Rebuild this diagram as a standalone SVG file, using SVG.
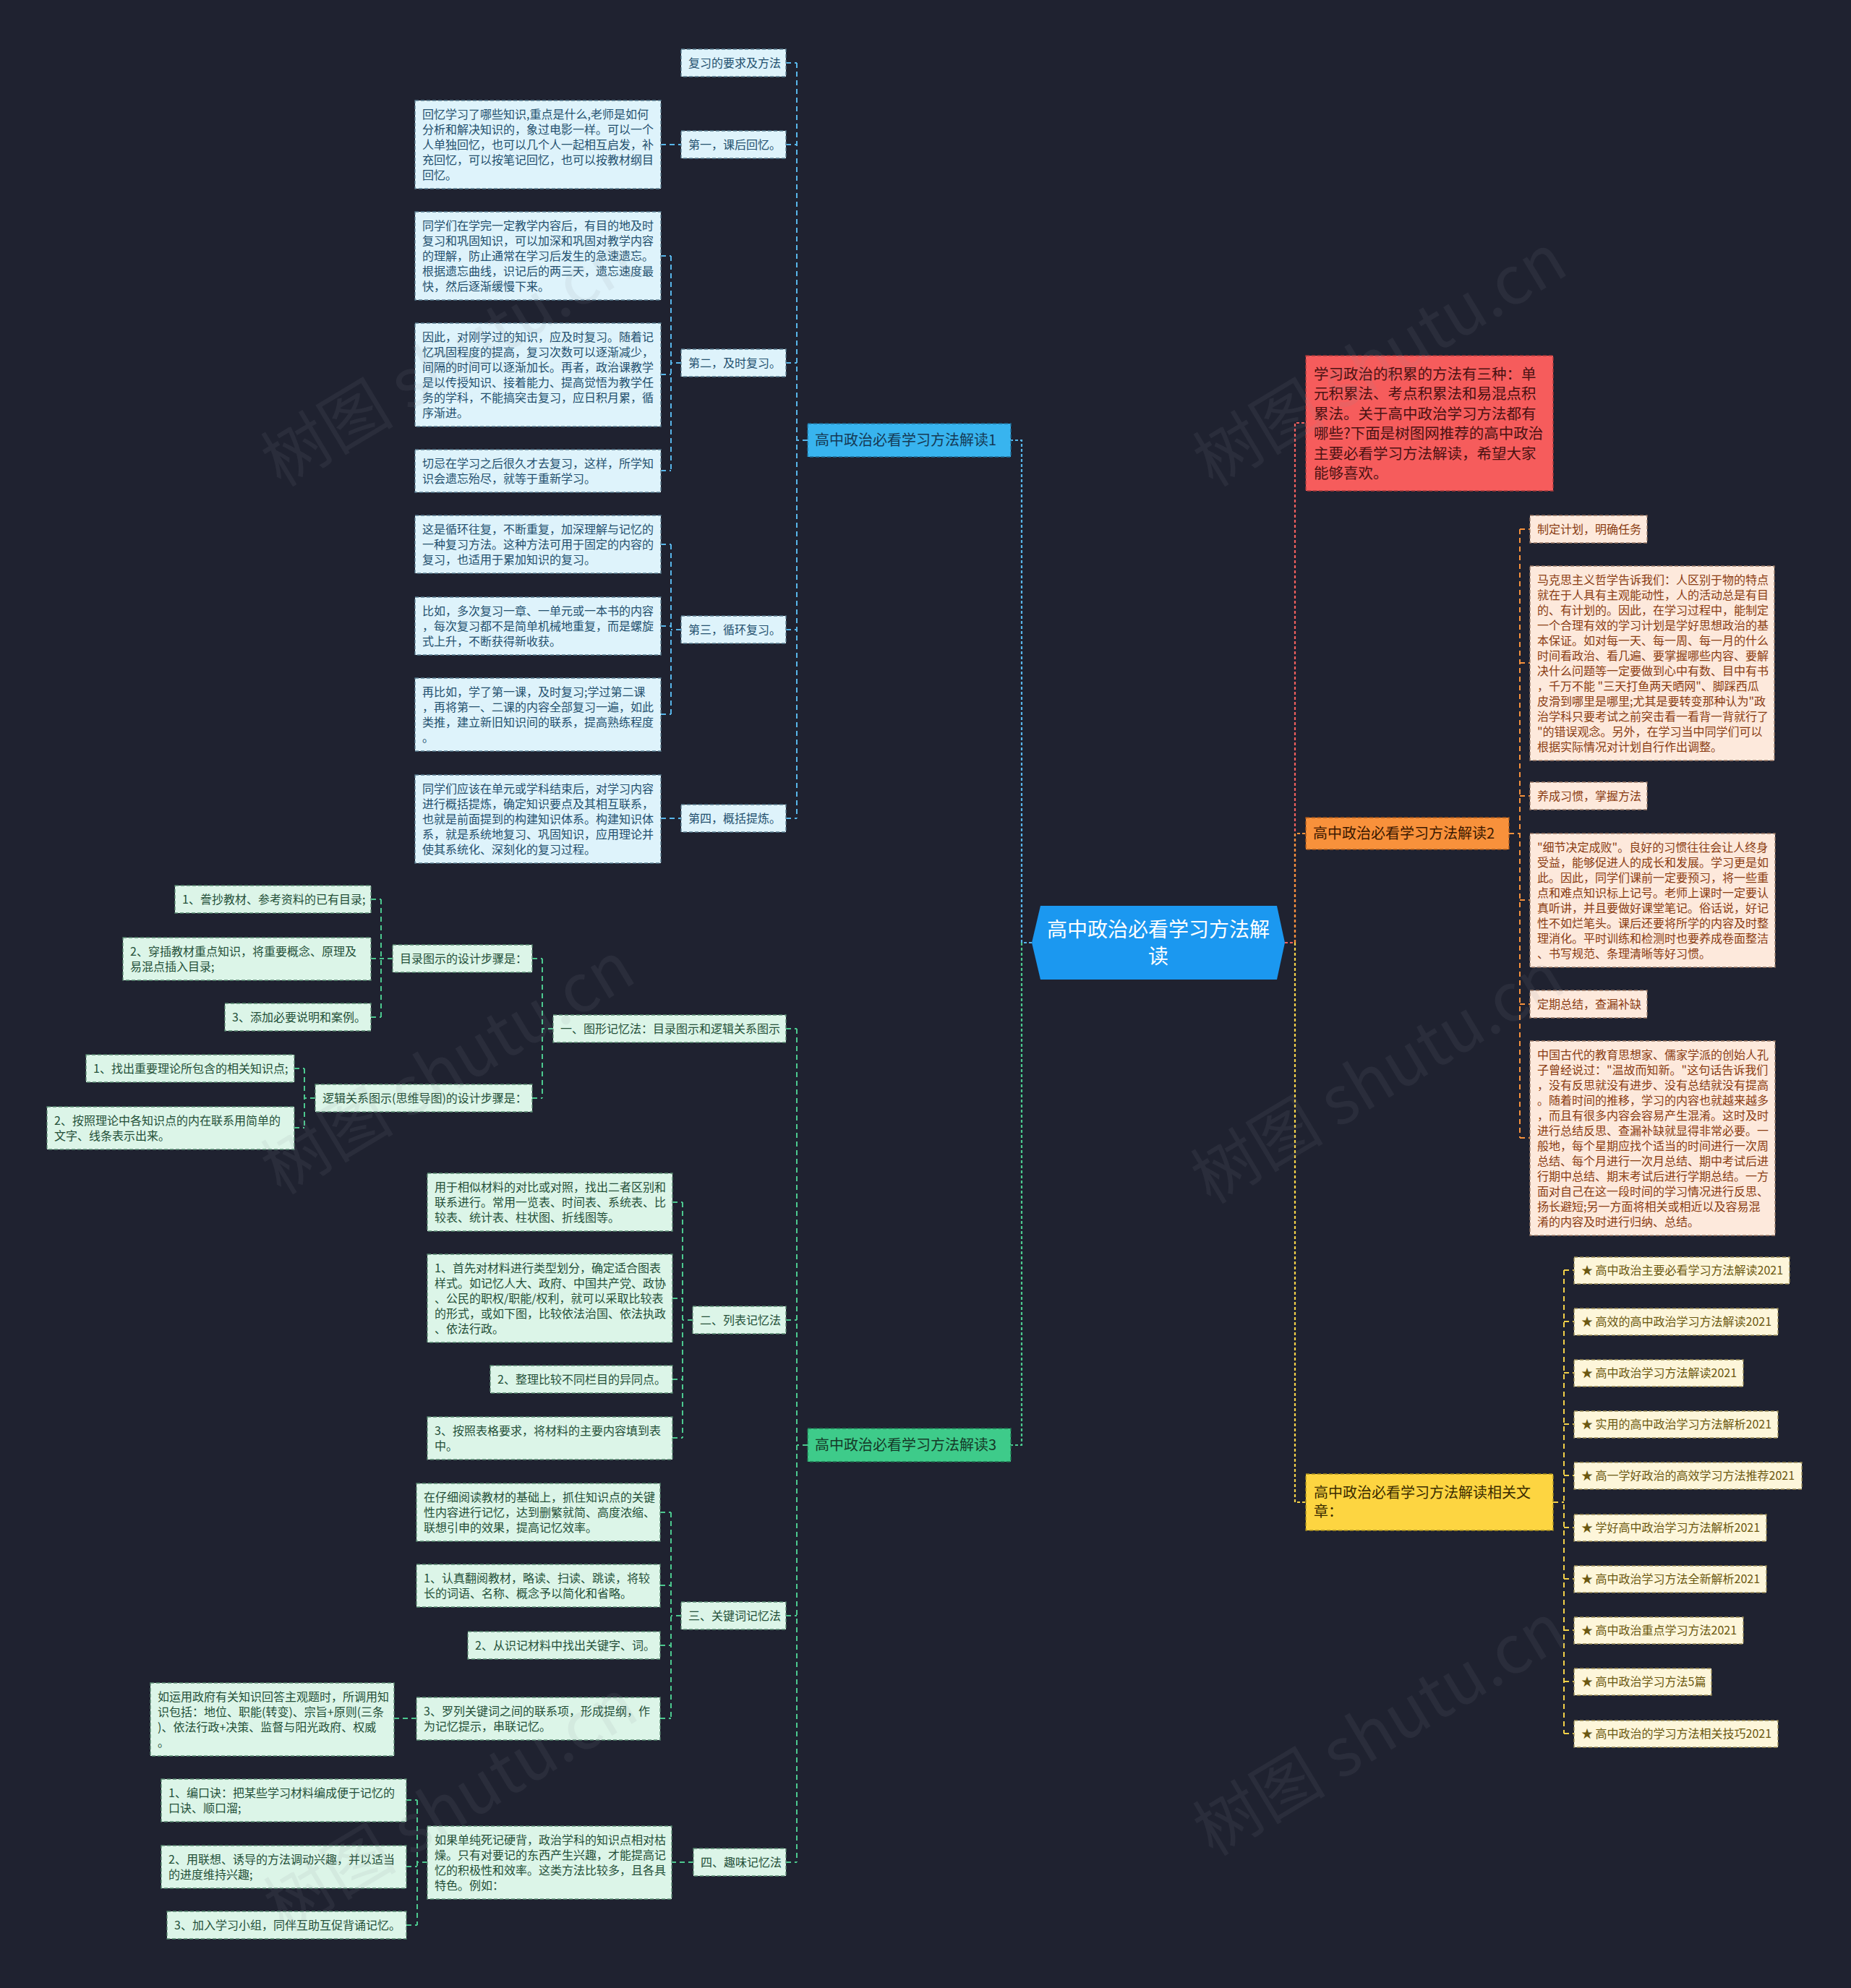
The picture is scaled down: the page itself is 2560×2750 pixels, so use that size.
<svg xmlns="http://www.w3.org/2000/svg" width="2560" height="2750" viewBox="0 0 2560 2750">
<style>
text{font-family:"Noto Sans CJK SC","Noto Sans",sans-serif;font-size:16px}
.box{stroke-width:1.3;stroke-dasharray:5 3}
.nb{fill:#def3fb;stroke:#5a7d90}
.ng{fill:#dcf5e8;stroke:#5a8a72}
.no{fill:#fde9dc;stroke:#9a7a66}
.ny{fill:#fdf6da;stroke:#9a8c55}
.tb{fill:#23506e}
.tg{fill:#245038}
.to{fill:#8a3c12}
.ty{fill:#6b5810}
.c{fill:none;stroke-width:2;stroke-dasharray:7 5}
.c1{fill:none;stroke-width:2.2;stroke-dasharray:4 3}
.cb{stroke:#58b6ea}
.cg{stroke:#4cc98f}
.cr{stroke:#f0605e}
.co{stroke:#f7913b}
.cy{stroke:#f3d148}
.big{font-size:20px}
.wm{font-size:92px;fill:#8a909a;opacity:0.1}
</style>
<rect width="2560" height="2750" fill="#1f2230"/>

<g id="connectors">
<path class="c1 cr" d="M1777,1304 H1791 V585 H1806"/>
<path class="c1 co" d="M1791,1304 V1153 H1806"/>
<path class="c1 cy" d="M1791,1304 V2078 H1806"/>
<path class="c1 cb" d="M1427,1304 H1413 V609 H1398"/>
<path class="c1 cg" d="M1413,1304 V1999 H1398"/>
<g class="c cb">
<path d="M1117,609 H1102 M1102,87 V1132 M1087,87 H1102 M1087,200 H1102 M1087,502 H1102 M1087,871 H1102 M1087,1132 H1102"/>
<path d="M914,200 H942"/>
<path d="M942,502 H928 M928,354 V651 M914,354 H928 M914,518 H928 M914,651 H928"/>
<path d="M942,871 H928 M928,753 V988 M914,753 H928 M914,866 H928 M914,988 H928"/>
<path d="M914,1132 H942"/>
</g>
<g class="c cg">
<path d="M1117,1999 H1102 M1102,1423 V2576 M1087,1423 H1102 M1087,1826 H1102 M1087,2235 H1102 M1087,2576 H1102"/>
<path d="M765,1423 H750 M750,1326 V1519 M736,1326 H750 M736,1519 H750"/>
<path d="M543,1326 H527 M527,1244 V1407 M513,1244 H527 M513,1326 H527 M513,1407 H527"/>
<path d="M436,1519 H421 M421,1478 V1560 M407,1478 H421 M407,1560 H421"/>
<path d="M958,1826 H944 M944,1663 V1989 M930,1663 H944 M930,1796 H944 M930,1908 H944 M930,1989 H944"/>
<path d="M942,2235 H928 M928,2092 V2377 M913,2092 H928 M913,2193 H928 M913,2276 H928 M913,2377 H928"/>
<path d="M576,2377 H545"/>
<path d="M959,2576 H929"/>
<path d="M591,2576 H577 M577,2490 V2663 M562,2490 H577 M562,2582 H577 M562,2663 H577"/>
</g>
<g class="c co">
<path d="M2087,1153 H2102 M2102,732 V1574 M2102,732 H2116 M2102,917 H2116 M2102,1101 H2116 M2102,1245 H2116 M2102,1389 H2116 M2102,1574 H2116"/>
</g>
<g class="c cy">
<path d="M2148,2078 H2163 M2163,1757 V2398 M2163,1757 H2177 M2163,1828 H2177 M2163,1899 H2177 M2163,1970 H2177 M2163,2041 H2177 M2163,2113 H2177 M2163,2184 H2177 M2163,2255 H2177 M2163,2326 H2177 M2163,2398 H2177"/>
</g>
</g>

<g id="center">
<polygon points="1439,1253 1766,1253 1777,1304 1766,1355 1439,1355 1427,1304" fill="#1b98f0"/>
<text x="1602" y="1296" text-anchor="middle" style="font-size:28px" fill="#ffffff"><tspan x="1602" y="1296">高中政治必看学习方法解</tspan><tspan x="1602" y="1333">读</tspan></text>
</g>

<g id="branch1">
<rect x="1117" y="586" width="281" height="46" fill="#38b4ef" stroke="#1f6f99" stroke-width="1.3" stroke-dasharray="5 3"/>
<text class="big" x="1127" y="616" fill="#153a55">高中政治必看学习方法解读1</text>
</g>
<g id="b1-n1"><rect class="box nb" x="942" y="68" width="145" height="38"/><text class="tb" x="952" y="93">复习的要求及方法</text></g>
<g id="b1-n2"><rect class="box nb" x="574" y="139" width="340" height="122"/><text class="tb"><tspan x="584" y="164">回忆学习了哪些知识,重点是什么,老师是如何</tspan><tspan x="584" y="185">分析和解决知识的，象过电影一样。可以一个</tspan><tspan x="584" y="206">人单独回忆，也可以几个人一起相互启发，补</tspan><tspan x="584" y="227">充回忆，可以按笔记回忆，也可以按教材纲目</tspan><tspan x="584" y="248">回忆。</tspan></text></g>
<g id="b1-n3"><rect class="box nb" x="942" y="181" width="145" height="38"/><text class="tb" x="952" y="206">第一，课后回忆。</text></g>
<g id="b1-n4"><rect class="box nb" x="574" y="293" width="340" height="122"/><text class="tb"><tspan x="584" y="318">同学们在学完一定教学内容后，有目的地及时</tspan><tspan x="584" y="339">复习和巩固知识，可以加深和巩固对教学内容</tspan><tspan x="584" y="360">的理解，防止通常在学习后发生的急速遗忘。</tspan><tspan x="584" y="381">根据遗忘曲线，识记后的两三天，遗忘速度最</tspan><tspan x="584" y="402">快，然后逐渐缓慢下来。</tspan></text></g>
<g id="b1-n5"><rect class="box nb" x="574" y="447" width="340" height="143"/><text class="tb"><tspan x="584" y="472">因此，对刚学过的知识，应及时复习。随着记</tspan><tspan x="584" y="493">忆巩固程度的提高，复习次数可以逐渐减少，</tspan><tspan x="584" y="514">间隔的时间可以逐渐加长。再者，政治课教学</tspan><tspan x="584" y="535">是以传授知识、接着能力、提高觉悟为教学任</tspan><tspan x="584" y="556">务的学科，不能搞突击复习，应日积月累，循</tspan><tspan x="584" y="577">序渐进。</tspan></text></g>
<g id="b1-n6"><rect class="box nb" x="942" y="483" width="145" height="38"/><text class="tb" x="952" y="508">第二，及时复习。</text></g>
<g id="b1-n7"><rect class="box nb" x="574" y="622" width="340" height="59"/><text class="tb"><tspan x="584" y="647">切忌在学习之后很久才去复习，这样，所学知</tspan><tspan x="584" y="668">识会遗忘殆尽，就等于重新学习。</tspan></text></g>
<g id="b1-n8"><rect class="box nb" x="574" y="713" width="340" height="80"/><text class="tb"><tspan x="584" y="738">这是循环往复，不断重复，加深理解与记忆的</tspan><tspan x="584" y="759">一种复习方法。这种方法可用于固定的内容的</tspan><tspan x="584" y="780">复习，也适用于累加知识的复习。</tspan></text></g>
<g id="b1-n9"><rect class="box nb" x="574" y="826" width="340" height="80"/><text class="tb"><tspan x="584" y="851">比如，多次复习一章、一单元或一本书的内容</tspan><tspan x="584" y="872">，每次复习都不是简单机械地重复，而是螺旋</tspan><tspan x="584" y="893">式上升，不断获得新收获。</tspan></text></g>
<g id="b1-n10"><rect class="box nb" x="942" y="852" width="145" height="38"/><text class="tb" x="952" y="877">第三，循环复习。</text></g>
<g id="b1-n11"><rect class="box nb" x="574" y="938" width="340" height="101"/><text class="tb"><tspan x="584" y="963">再比如，学了第一课，及时复习;学过第二课</tspan><tspan x="584" y="984">，再将第一、二课的内容全部复习一遍，如此</tspan><tspan x="584" y="1005">类推，建立新旧知识间的联系，提高熟练程度</tspan><tspan x="584" y="1026">。</tspan></text></g>
<g id="b1-n12"><rect class="box nb" x="574" y="1072" width="340" height="122"/><text class="tb"><tspan x="584" y="1097">同学们应该在单元或学科结束后，对学习内容</tspan><tspan x="584" y="1118">进行概括提炼，确定知识要点及其相互联系，</tspan><tspan x="584" y="1139">也就是前面提到的构建知识体系。构建知识体</tspan><tspan x="584" y="1160">系，就是系统地复习、巩固知识，应用理论并</tspan><tspan x="584" y="1181">使其系统化、深刻化的复习过程。</tspan></text></g>
<g id="b1-n13"><rect class="box nb" x="942" y="1113" width="145" height="38"/><text class="tb" x="952" y="1138">第四，概括提炼。</text></g>

<g id="branch3">
<rect x="1117" y="1976" width="281" height="46" fill="#3ecb8a" stroke="#1f7a52" stroke-width="1.3" stroke-dasharray="5 3"/>
<text class="big" x="1127" y="2006" fill="#153a28">高中政治必看学习方法解读3</text>
</g>
<g id="b3-n1"><rect class="box ng" x="765" y="1404" width="322" height="38"/><text class="tg" x="775" y="1429">一、图形记忆法：目录图示和逻辑关系图示</text></g>
<g id="b3-n2"><rect class="box ng" x="543" y="1307" width="193" height="38"/><text class="tg" x="553" y="1332">目录图示的设计步骤是：</text></g>
<g id="b3-n3"><rect class="box ng" x="436" y="1500" width="300" height="38"/><text class="tg" x="446" y="1525">逻辑关系图示(思维导图)的设计步骤是：</text></g>
<g id="b3-n4"><rect class="box ng" x="242" y="1225" width="271" height="38"/><text class="tg" x="252" y="1250">1、誊抄教材、参考资料的已有目录;</text></g>
<g id="b3-n5"><rect class="box ng" x="170" y="1297" width="343" height="59"/><text class="tg"><tspan x="180" y="1322">2、穿插教材重点知识，将重要概念、原理及</tspan><tspan x="180" y="1343">易混点插入目录;</tspan></text></g>
<g id="b3-n6"><rect class="box ng" x="311" y="1388" width="202" height="38"/><text class="tg" x="321" y="1413">3、添加必要说明和案例。</text></g>
<g id="b3-n7"><rect class="box ng" x="119" y="1459" width="288" height="38"/><text class="tg" x="129" y="1484">1、找出重要理论所包含的相关知识点;</text></g>
<g id="b3-n8"><rect class="box ng" x="65" y="1531" width="342" height="59"/><text class="tg"><tspan x="75" y="1556">2、按照理论中各知识点的内在联系用简单的</tspan><tspan x="75" y="1577">文字、线条表示出来。</tspan></text></g>
<g id="b3-n9"><rect class="box ng" x="958" y="1807" width="129" height="38"/><text class="tg" x="968" y="1832">二、列表记忆法</text></g>
<g id="b3-n10"><rect class="box ng" x="591" y="1623" width="339" height="80"/><text class="tg"><tspan x="601" y="1648">用于相似材料的对比或对照，找出二者区别和</tspan><tspan x="601" y="1669">联系进行。常用一览表、时间表、系统表、比</tspan><tspan x="601" y="1690">较表、统计表、柱状图、折线图等。</tspan></text></g>
<g id="b3-n11"><rect class="box ng" x="591" y="1735" width="339" height="122"/><text class="tg"><tspan x="601" y="1760">1、首先对材料进行类型划分，确定适合图表</tspan><tspan x="601" y="1781">样式。如记忆人大、政府、中国共产党、政协</tspan><tspan x="601" y="1802">、公民的职权/职能/权利，就可以采取比较表</tspan><tspan x="601" y="1823">的形式，或如下图，比较依法治国、依法执政</tspan><tspan x="601" y="1844">、依法行政。</tspan></text></g>
<g id="b3-n12"><rect class="box ng" x="678" y="1889" width="252" height="38"/><text class="tg" x="688" y="1914">2、整理比较不同栏目的异同点。</text></g>
<g id="b3-n13"><rect class="box ng" x="591" y="1960" width="339" height="59"/><text class="tg"><tspan x="601" y="1985">3、按照表格要求，将材料的主要内容填到表</tspan><tspan x="601" y="2006">中。</tspan></text></g>
<g id="b3-n14"><rect class="box ng" x="942" y="2216" width="145" height="38"/><text class="tg" x="952" y="2241">三、关键词记忆法</text></g>
<g id="b3-n15"><rect class="box ng" x="576" y="2052" width="337" height="80"/><text class="tg"><tspan x="586" y="2077">在仔细阅读教材的基础上，抓住知识点的关键</tspan><tspan x="586" y="2098">性内容进行记忆，达到删繁就简、高度浓缩、</tspan><tspan x="586" y="2119">联想引申的效果，提高记忆效率。</tspan></text></g>
<g id="b3-n16"><rect class="box ng" x="576" y="2164" width="337" height="59"/><text class="tg"><tspan x="586" y="2189">1、认真翻阅教材，略读、扫读、跳读，将较</tspan><tspan x="586" y="2210">长的词语、名称、概念予以简化和省略。</tspan></text></g>
<g id="b3-n17"><rect class="box ng" x="647" y="2257" width="266" height="38"/><text class="tg" x="657" y="2282">2、从识记材料中找出关键字、词。</text></g>
<g id="b3-n18"><rect class="box ng" x="576" y="2348" width="337" height="59"/><text class="tg"><tspan x="586" y="2373">3、罗列关键词之间的联系项，形成提纲，作</tspan><tspan x="586" y="2394">为记忆提示，串联记忆。</tspan></text></g>
<g id="b3-n19"><rect class="box ng" x="208" y="2328" width="337" height="101"/><text class="tg"><tspan x="218" y="2353">如运用政府有关知识回答主观题时，所调用知</tspan><tspan x="218" y="2374">识包括：地位、职能(转变)、宗旨+原则(三条</tspan><tspan x="218" y="2395">)、依法行政+决策、监督与阳光政府、权威</tspan><tspan x="218" y="2416">。</tspan></text></g>
<g id="b3-n20"><rect class="box ng" x="959" y="2557" width="128" height="38"/><text class="tg" x="969" y="2582">四、趣味记忆法</text></g>
<g id="b3-n21"><rect class="box ng" x="591" y="2526" width="338" height="101"/><text class="tg"><tspan x="601" y="2551">如果单纯死记硬背，政治学科的知识点相对枯</tspan><tspan x="601" y="2572">燥。只有对要记的东西产生兴趣，才能提高记</tspan><tspan x="601" y="2593">忆的积极性和效率。这类方法比较多，且各具</tspan><tspan x="601" y="2614">特色。例如：</tspan></text></g>
<g id="b3-n22"><rect class="box ng" x="223" y="2461" width="339" height="59"/><text class="tg"><tspan x="233" y="2486">1、编口诀：把某些学习材料编成便于记忆的</tspan><tspan x="233" y="2507">口诀、顺口溜;</tspan></text></g>
<g id="b3-n23"><rect class="box ng" x="223" y="2553" width="339" height="59"/><text class="tg"><tspan x="233" y="2578">2、用联想、诱导的方法调动兴趣，并以适当</tspan><tspan x="233" y="2599">的进度维持兴趣;</tspan></text></g>
<g id="b3-n24"><rect class="box ng" x="231" y="2644" width="331" height="38"/><text class="tg" x="241" y="2669">3、加入学习小组，同伴互助互促背诵记忆。</text></g>

<g id="intro">
<rect x="1806" y="492" width="342" height="187" fill="#f65c5c" stroke="#a83a3a" stroke-width="1.3" stroke-dasharray="5 3"/>
<text style="font-size:20.5px" fill="#4a1212"><tspan x="1817" y="525">学习政治的积累的方法有三种：单</tspan><tspan x="1817" y="552">元积累法、考点积累法和易混点积</tspan><tspan x="1817" y="580">累法。关于高中政治学习方法都有</tspan><tspan x="1817" y="607">哪些?下面是树图网推荐的高中政治</tspan><tspan x="1817" y="635">主要必看学习方法解读，希望大家</tspan><tspan x="1817" y="662">能够喜欢。</tspan></text>
</g>

<g id="branch2">
<rect x="1806" y="1131" width="281" height="44" fill="#f8913b" stroke="#a8581c" stroke-width="1.3" stroke-dasharray="5 3"/>
<text class="big" x="1816" y="1160" fill="#3a1800">高中政治必看学习方法解读2</text>
</g>
<g id="b2-n1"><rect class="box no" x="2116" y="713" width="162" height="38"/><text class="to" x="2126" y="738">制定计划，明确任务</text></g>
<g id="b2-n2"><rect class="box no" x="2116" y="783" width="338" height="269"/><text class="to"><tspan x="2126" y="808">马克思主义哲学告诉我们：人区别于物的特点</tspan><tspan x="2126" y="829">就在于人具有主观能动性，人的活动总是有目</tspan><tspan x="2126" y="850">的、有计划的。因此，在学习过程中，能制定</tspan><tspan x="2126" y="871">一个合理有效的学习计划是学好思想政治的基</tspan><tspan x="2126" y="892">本保证。如对每一天、每一周、每一月的什么</tspan><tspan x="2126" y="913">时间看政治、看几遍、要掌握哪些内容、要解</tspan><tspan x="2126" y="934">决什么问题等一定要做到心中有数、目中有书</tspan><tspan x="2126" y="955">，千万不能 "三天打鱼两天晒网"、脚踩西瓜</tspan><tspan x="2126" y="976">皮滑到哪里是哪里;尤其是要转变那种认为"政</tspan><tspan x="2126" y="997">治学科只要考试之前突击看一看背一背就行了</tspan><tspan x="2126" y="1018">"的错误观念。另外，在学习当中同学们可以</tspan><tspan x="2126" y="1039">根据实际情况对计划自行作出调整。</tspan></text></g>
<g id="b2-n3"><rect class="box no" x="2116" y="1082" width="162" height="38"/><text class="to" x="2126" y="1107">养成习惯，掌握方法</text></g>
<g id="b2-n4"><rect class="box no" x="2116" y="1153" width="339" height="185"/><text class="to"><tspan x="2126" y="1178">"细节决定成败"。良好的习惯往往会让人终身</tspan><tspan x="2126" y="1199">受益，能够促进人的成长和发展。学习更是如</tspan><tspan x="2126" y="1220">此。因此，同学们课前一定要预习，将一些重</tspan><tspan x="2126" y="1241">点和难点知识标上记号。老师上课时一定要认</tspan><tspan x="2126" y="1262">真听讲，并且要做好课堂笔记。俗话说，好记</tspan><tspan x="2126" y="1283">性不如烂笔头。课后还要将所学的内容及时整</tspan><tspan x="2126" y="1304">理消化。平时训练和检测时也要养成卷面整洁</tspan><tspan x="2126" y="1325">、书写规范、条理清晰等好习惯。</tspan></text></g>
<g id="b2-n5"><rect class="box no" x="2116" y="1370" width="162" height="38"/><text class="to" x="2126" y="1395">定期总结，查漏补缺</text></g>
<g id="b2-n6"><rect class="box no" x="2116" y="1440" width="339" height="269"/><text class="to"><tspan x="2126" y="1465">中国古代的教育思想家、儒家学派的创始人孔</tspan><tspan x="2126" y="1486">子曾经说过："温故而知新。"这句话告诉我们</tspan><tspan x="2126" y="1507">，没有反思就没有进步、没有总结就没有提高</tspan><tspan x="2126" y="1528">。随着时间的推移，学习的内容也就越来越多</tspan><tspan x="2126" y="1549">，而且有很多内容会容易产生混淆。这时及时</tspan><tspan x="2126" y="1570">进行总结反思、查漏补缺就显得非常必要。一</tspan><tspan x="2126" y="1591">般地，每个星期应找个适当的时间进行一次周</tspan><tspan x="2126" y="1612">总结、每个月进行一次月总结、期中考试后进</tspan><tspan x="2126" y="1633">行期中总结、期末考试后进行学期总结。一方</tspan><tspan x="2126" y="1654">面对自己在这一段时间的学习情况进行反思、</tspan><tspan x="2126" y="1675">扬长避短;另一方面将相关或相近以及容易混</tspan><tspan x="2126" y="1696">淆的内容及时进行归纳、总结。</tspan></text></g>

<g id="related">
<rect x="1806" y="2039" width="342" height="78" fill="#fdd541" stroke="#a88e1c" stroke-width="1.3" stroke-dasharray="5 3"/>
<text class="big" fill="#3a2c00"><tspan x="1817" y="2072">高中政治必看学习方法解读相关文</tspan><tspan x="1817" y="2098">章：</tspan></text>
</g>
<g id="r1"><rect class="box ny" x="2177" y="1739" width="298" height="37"/><text class="ty" x="2187" y="1763">★ 高中政治主要必看学习方法解读2021</text></g>
<g id="r2"><rect class="box ny" x="2177" y="1810" width="282" height="37"/><text class="ty" x="2187" y="1834">★ 高效的高中政治学习方法解读2021</text></g>
<g id="r3"><rect class="box ny" x="2177" y="1881" width="234" height="37"/><text class="ty" x="2187" y="1905">★ 高中政治学习方法解读2021</text></g>
<g id="r4"><rect class="box ny" x="2177" y="1952" width="282" height="37"/><text class="ty" x="2187" y="1976">★ 实用的高中政治学习方法解析2021</text></g>
<g id="r5"><rect class="box ny" x="2177" y="2023" width="315" height="37"/><text class="ty" x="2187" y="2047">★ 高一学好政治的高效学习方法推荐2021</text></g>
<g id="r6"><rect class="box ny" x="2177" y="2095" width="266" height="37"/><text class="ty" x="2187" y="2119">★ 学好高中政治学习方法解析2021</text></g>
<g id="r7"><rect class="box ny" x="2177" y="2166" width="266" height="37"/><text class="ty" x="2187" y="2190">★ 高中政治学习方法全新解析2021</text></g>
<g id="r8"><rect class="box ny" x="2177" y="2237" width="234" height="37"/><text class="ty" x="2187" y="2261">★ 高中政治重点学习方法2021</text></g>
<g id="r9"><rect class="box ny" x="2177" y="2308" width="190" height="37"/><text class="ty" x="2187" y="2332">★ 高中政治学习方法5篇</text></g>
<g id="r10"><rect class="box ny" x="2177" y="2380" width="282" height="37"/><text class="ty" x="2187" y="2404">★ 高中政治的学习方法相关技巧2021</text></g>

<g id="watermarks">
<text class="wm" text-anchor="middle" transform="translate(636,526) rotate(-31)">树图 shutu.cn</text>
<text class="wm" text-anchor="middle" transform="translate(1925,526) rotate(-31)">树图 shutu.cn</text>
<text class="wm" text-anchor="middle" transform="translate(636,1505) rotate(-31)">树图 shutu.cn</text>
<text class="wm" text-anchor="middle" transform="translate(1922,1518) rotate(-31)">树图 shutu.cn</text>
<text class="wm" text-anchor="middle" transform="translate(640,2525) rotate(-31)">树图 shutu.cn</text>
<text class="wm" text-anchor="middle" transform="translate(1925,2420) rotate(-31)">树图 shutu.cn</text>
</g>
</svg>
